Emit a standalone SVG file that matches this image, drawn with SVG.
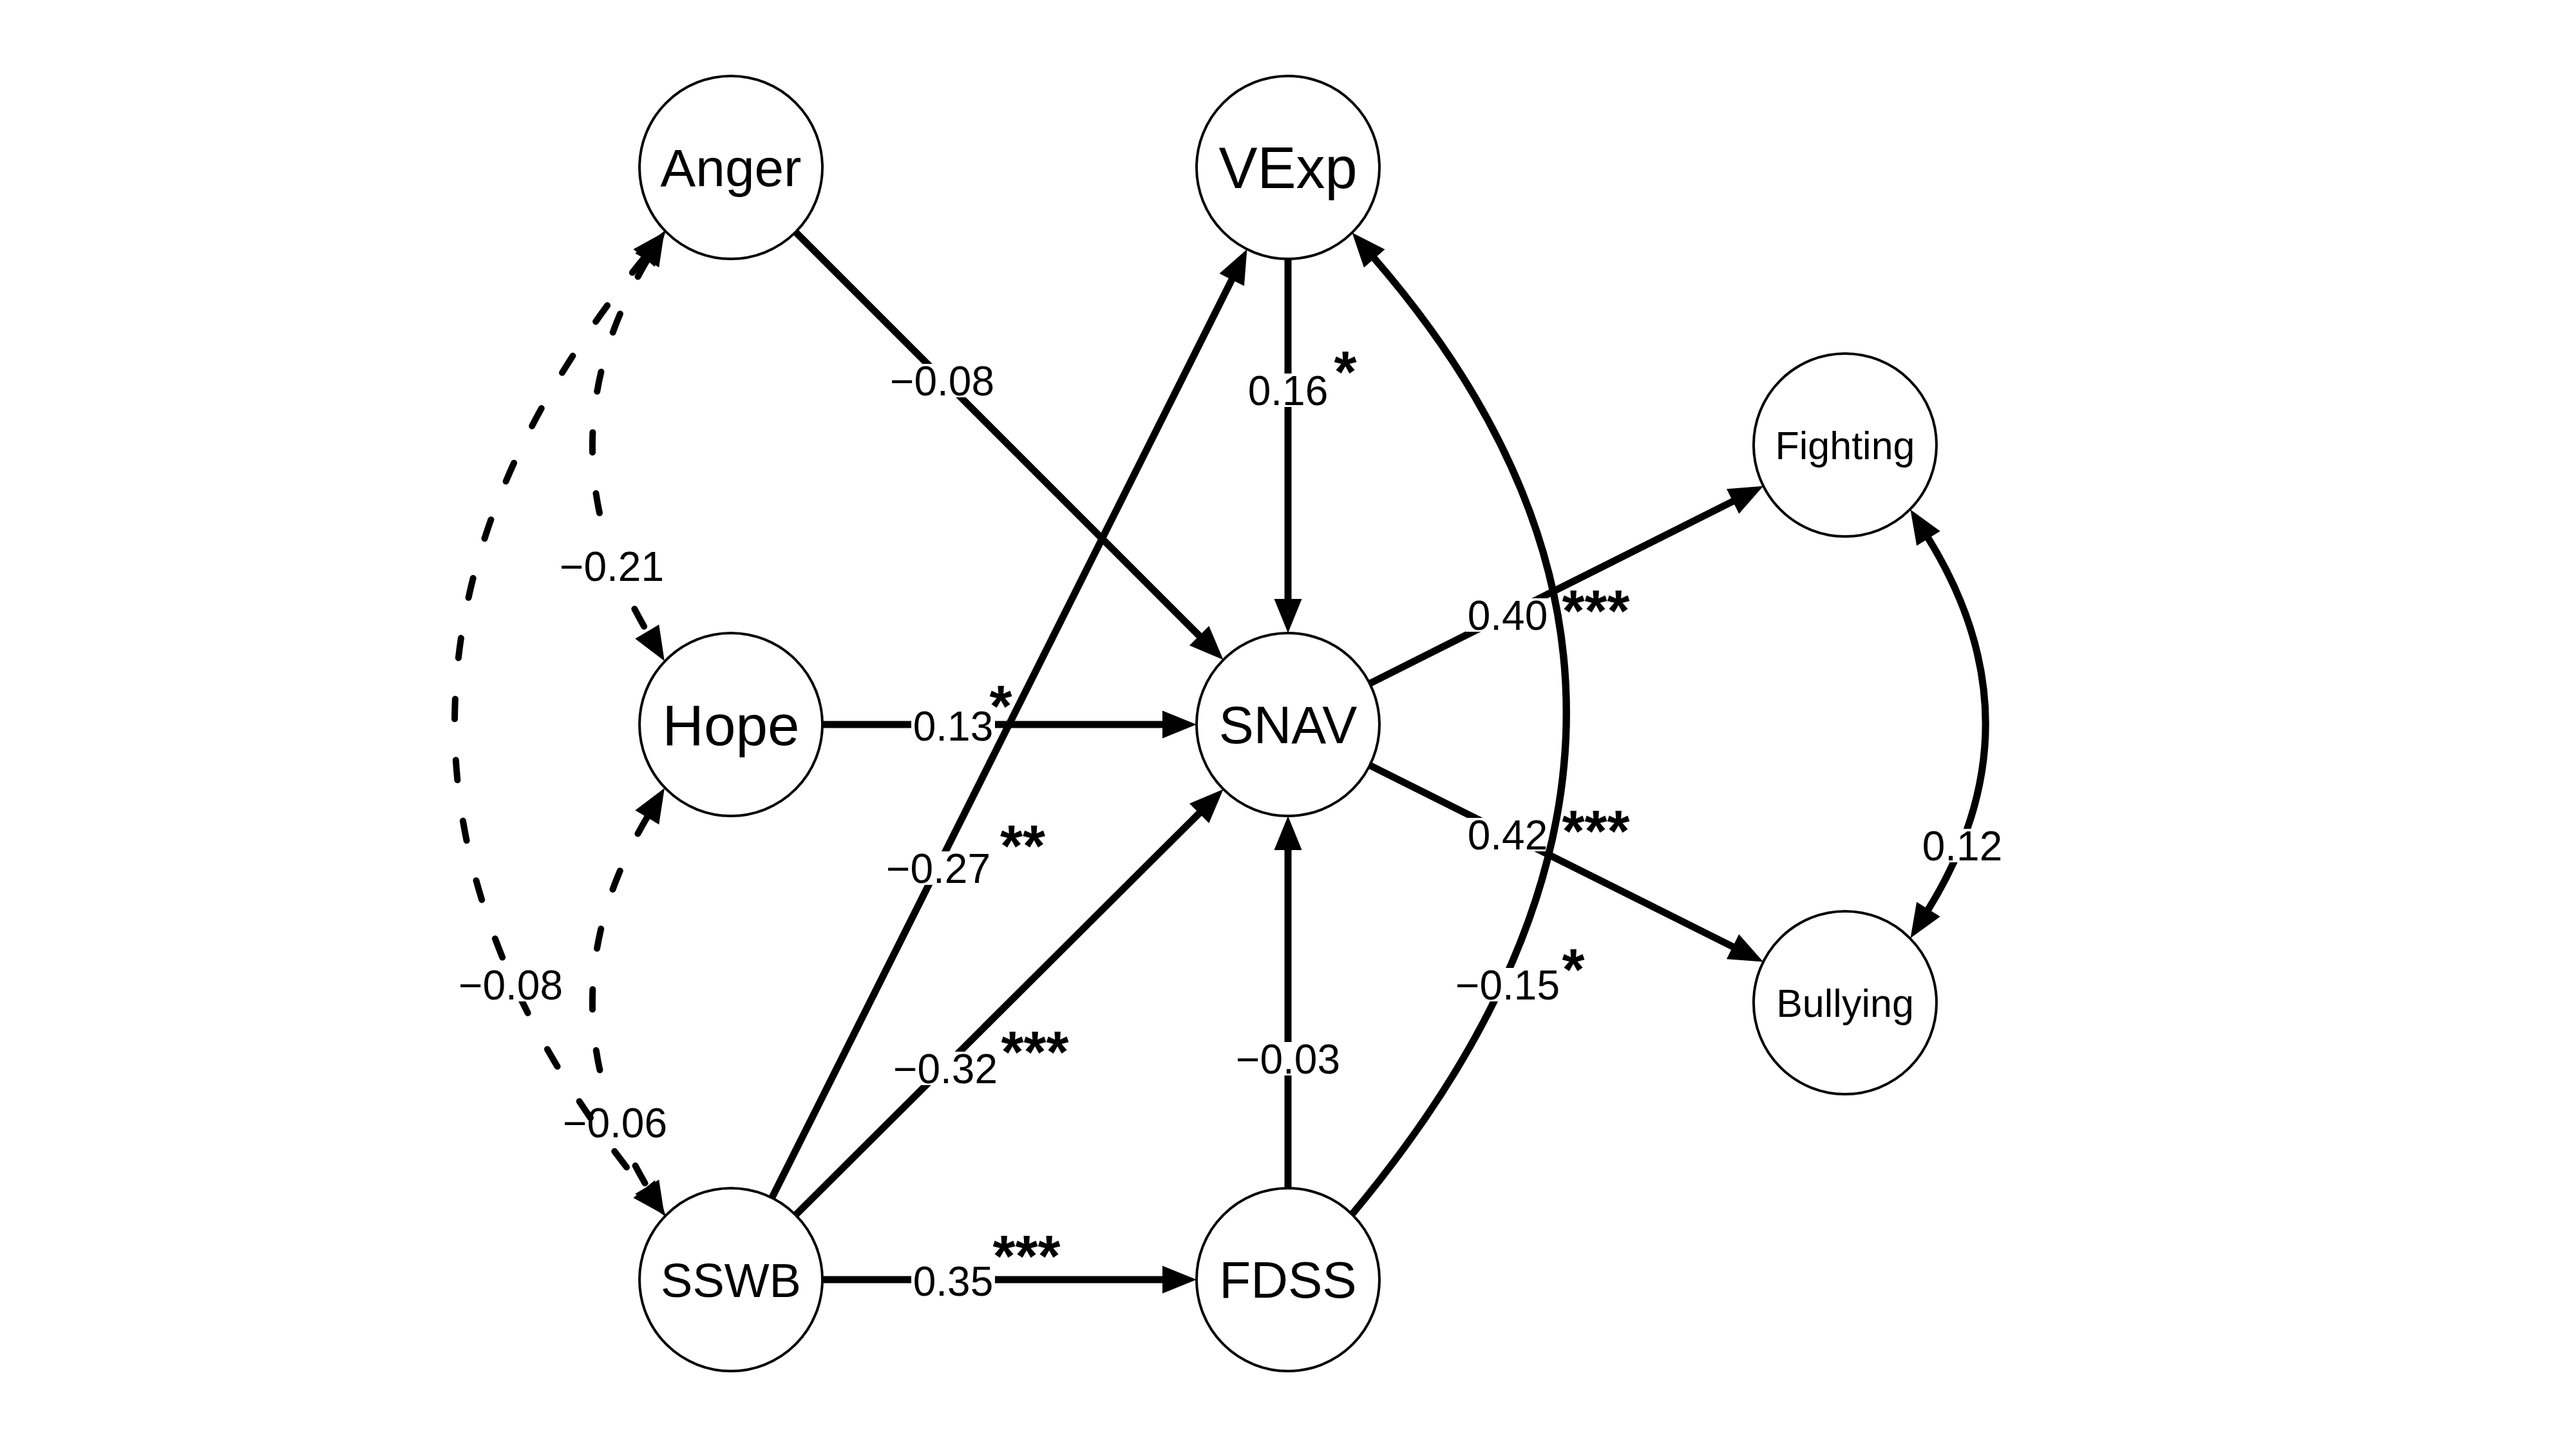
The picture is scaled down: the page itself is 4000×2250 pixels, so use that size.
<svg xmlns="http://www.w3.org/2000/svg" width="4000" height="2250" viewBox="0 0 4000 2250">
<style>
.bg{fill:#fff}
.n circle{fill:#fff;stroke:#000;stroke-width:4}
.n text{font-family:"Liberation Sans",Arial,Helvetica,sans-serif;text-anchor:middle;fill:#000}
.e{fill:none;stroke:#000;stroke-width:11}
.d{fill:none;stroke:#000;stroke-width:10;stroke-dasharray:31 64;stroke-linecap:round}
.lb rect{fill:#fff}
.lb text{font-family:"Liberation Sans",Arial,Helvetica,sans-serif;font-size:64px;text-anchor:middle;fill:#000}
.lb text.st{font-size:90px;font-weight:bold}
</style>
<defs>
<marker id="arr" markerUnits="userSpaceOnUse" markerWidth="60" markerHeight="50" viewBox="0 -25 60 50" refX="2" refY="0" orient="auto-start-reverse" overflow="visible">
<path d="M0,-21.5 L53,0 L0,21.5 Z" fill="#000" stroke="none"/>
</marker>
</defs>
<rect class="bg" x="0" y="0" width="4000" height="2250"/>

<g id="connectors">
  <g id="e-anger-hope">
    <path class="d" d="M1005.8,402.5 Q834,692.5 1005.8,982.5" marker-start="url(#arr)" marker-end="url(#arr)"/>
    <g class="lb"><rect x="866" y="853" width="168" height="52"/><text x="950" y="902">−0.21</text></g>
  </g>
  <g id="e-hope-sswb">
    <path class="d" d="M1005.8,1267.5 Q834,1556 1005.8,1844.5" marker-start="url(#arr)" marker-end="url(#arr)"/>
    <g class="lb"><rect x="871" y="1717" width="168" height="52"/><text x="955" y="1766">−0.06</text></g>
  </g>
  <g id="e-anger-sswb">
    <path class="d" d="M1001.3,399 Q410.7,1123.5 1001.3,1848" marker-start="url(#arr)" marker-end="url(#arr)"/>
    <g class="lb"><rect x="709" y="1503" width="168" height="52"/><text x="793" y="1552">−0.08</text></g>
  </g>
  <g id="e-anger-snav">
    <path class="e" d="M1235.4,360.4 L1863.5,988.5" marker-end="url(#arr)"/>
    <g class="lb"><rect x="1379" y="565" width="168" height="52"/><text x="1463" y="614">−0.08</text></g>
  </g>
  <g id="e-vexp-snav">
    <path class="e" d="M2000,402 L2000,932" marker-end="url(#arr)"/>
    <g class="lb"><rect x="1935" y="580" width="130" height="52"/><text x="2000" y="629">0.16</text><text class="st" x="2089" y="609">*</text></g>
  </g>
  <g id="e-hope-snav">
    <path class="e" d="M1277,1125 L1807,1125" marker-end="url(#arr)"/>
    <g class="lb"><rect x="1415" y="1101" width="130" height="52"/><text x="1480" y="1150">0.13</text><text class="st" x="1554" y="1128">*</text></g>
  </g>
  <g id="e-sswb-snav">
    <path class="e" d="M1235.4,1886.6 L1863.5,1261.5" marker-end="url(#arr)"/>
    <g class="lb"><rect x="1384" y="1633" width="168" height="52"/><text x="1468" y="1682">−0.32</text><text class="st" x="1607" y="1665">***</text></g>
  </g>
  <g id="e-sswb-vexp">
    <path class="e" d="M1198.6,1860 L1913.6,432.6" marker-end="url(#arr)"/>
    <g class="lb"><rect x="1373" y="1322" width="168" height="52"/><text x="1457" y="1371">−0.27</text><text class="st" x="1588" y="1345">**</text></g>
  </g>
  <g id="e-sswb-fdss">
    <path class="e" d="M1277,1987 L1807,1987" marker-end="url(#arr)"/>
    <g class="lb"><rect x="1415" y="1963" width="130" height="52"/><text x="1480" y="2012">0.35</text><text class="st" x="1594" y="1982">***</text></g>
  </g>
  <g id="e-fdss-snav">
    <path class="e" d="M2000,1845 L2000,1318" marker-end="url(#arr)"/>
    <g class="lb"><rect x="1916" y="1618" width="168" height="52"/><text x="2000" y="1667">−0.03</text></g>
  </g>
  <g id="e-snav-fighting">
    <path class="e" d="M2126.9,1061.3 L2692.5,777.6" marker-end="url(#arr)"/>
    <g class="lb"><rect x="2276" y="929" width="130" height="52"/><text x="2341" y="978">0.40</text><text class="st" x="2478" y="980">***</text></g>
  </g>
  <g id="e-snav-bullying">
    <path class="e" d="M2127,1188.4 L2692.4,1470.8" marker-end="url(#arr)"/>
    <g class="lb"><rect x="2276" y="1270" width="130" height="52"/><text x="2341" y="1319">0.42</text><text class="st" x="2478" y="1322">***</text></g>
  </g>
  <g id="e-fdss-vexp">
    <path class="e" d="M2099.4,1885.6 Q2748,1110 2132.9,399.8" marker-end="url(#arr)"/>
    <g class="lb"><rect x="2257" y="1503" width="168" height="52"/><text x="2341" y="1552">−0.15</text><text class="st" x="2443" y="1537">*</text></g>
  </g>
  <g id="e-fighting-bullying">
    <path class="e" d="M2993.4,834.5 Q3173,1124 2993.4,1413.5" marker-start="url(#arr)" marker-end="url(#arr)"/>
    <g class="lb"><rect x="2982" y="1287" width="130" height="52"/><text x="3047" y="1336">0.12</text></g>
  </g>
</g>

<g id="node-anger" class="n"><circle cx="1135" cy="260" r="142"/><text x="1135" y="289" font-size="82">Anger</text></g>
<g id="node-vexp" class="n"><circle cx="2000" cy="260" r="142"/><text x="2000" y="292" font-size="90">VExp</text></g>
<g id="node-hope" class="n"><circle cx="1135" cy="1125" r="142"/><text x="1135" y="1157" font-size="89">Hope</text></g>
<g id="node-snav" class="n"><circle cx="2000" cy="1125" r="142"/><text x="2000" y="1154" font-size="81">SNAV</text></g>
<g id="node-sswb" class="n"><circle cx="1135" cy="1987" r="142"/><text x="1135" y="2014" font-size="74">SSWB</text></g>
<g id="node-fdss" class="n"><circle cx="2000" cy="1987" r="142"/><text x="2000" y="2015" font-size="80">FDSS</text></g>
<g id="node-fighting" class="n"><circle cx="2865" cy="691" r="142"/><text x="2865" y="713" font-size="61">Fighting</text></g>
<g id="node-bullying" class="n"><circle cx="2865" cy="1557" r="142"/><text x="2865" y="1579" font-size="61">Bullying</text></g>
</svg>
